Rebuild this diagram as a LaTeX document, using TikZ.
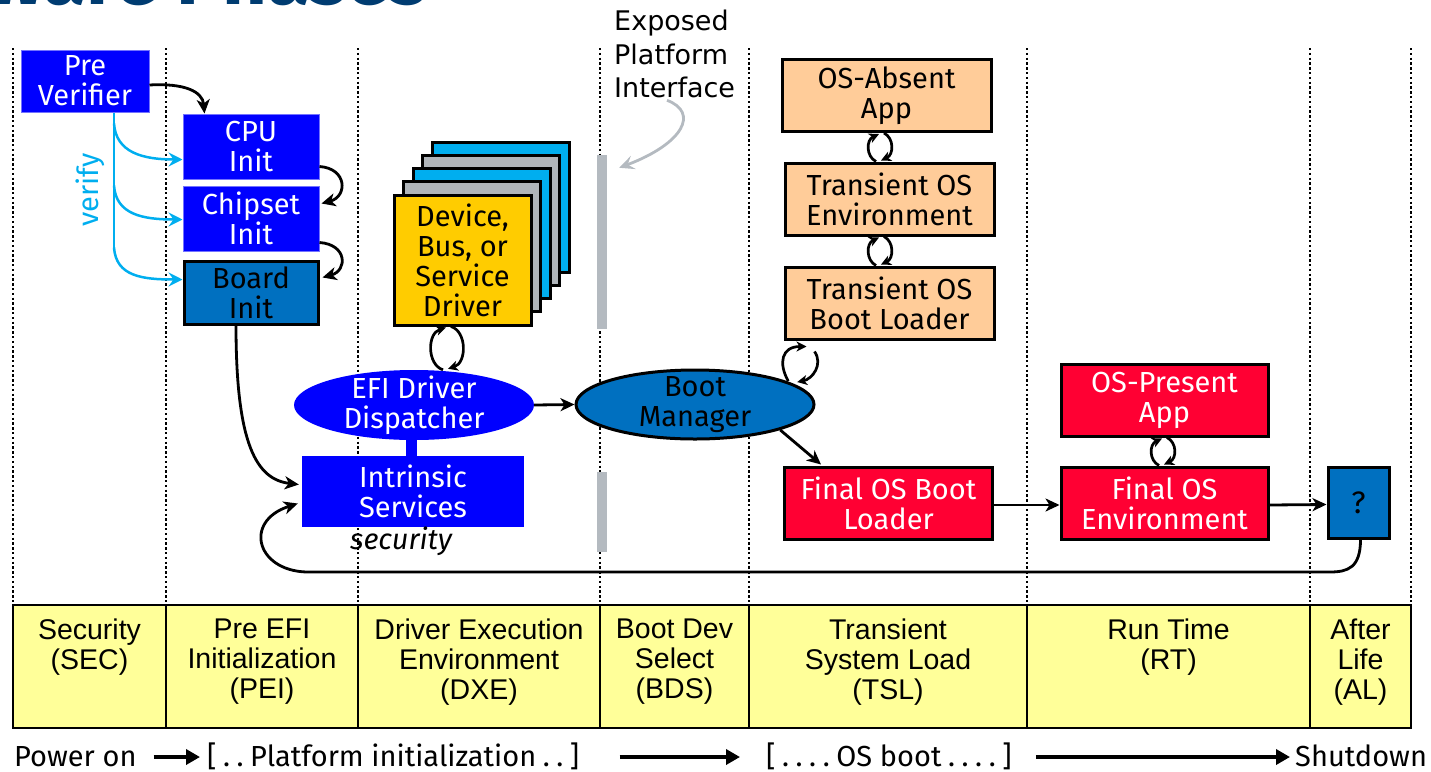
\documentclass[tikz,border=0pt]{standalone}
\usepackage{fontspec}
\setmainfont{Fira Sans}
\newfontfamily\labfont{Liberation Sans}
\newfontfamily\notefont{DejaVu Sans}
\usetikzlibrary{arrows.meta,calc,shapes.geometric}

\definecolor{navy}{HTML}{003C71}
\definecolor{pureblue}{HTML}{0000FF}
\definecolor{midblue}{HTML}{0070C0}
\definecolor{skyblue}{HTML}{00AEEF}
\definecolor{peach}{HTML}{FFCC99}
\definecolor{alertred}{HTML}{FF0033}
\definecolor{paleyellow}{HTML}{FFFF99}
\definecolor{bargray}{HTML}{B4BAC0}
\definecolor{layergray}{HTML}{B0B5BA}
\definecolor{gold}{HTML}{FFCC00}

\newcommand\boxfs{\fontsize{29}{30}\selectfont}
\newcommand\cellfs{\labfont\fontsize{28.5}{30}\selectfont}
\newcommand\notefs{\notefont\fontsize{27}{33.5}\selectfont}
\newcommand\titlefs{\fontsize{78}{80}\selectfont\bfseries}
\newcommand\dotgap{\hspace{6.6pt}}

% two facing arcs between a node and the one stacked below it
\newcommand\stackloop[4]{%
  \coordinate (lpB) at ($(#2.north)+(#3,0)$);
  \coordinate (lpT) at (lpB |- #1.south);
  \draw[looparr] ($(lpB)+(-4,0)$) .. controls ($(lpB)+(-#4-4,-5)$) and ($(lpT)+(-#4-4,7)$) .. ($(lpT)+(-1,1)$);
  \draw[looparr] ($(lpT)+(4,0)$) .. controls ($(lpT)+(#4+4,5)$) and ($(lpB)+(#4+4,-7)$) .. ($(lpB)+(1,-1)$);
}

\tikzset{
  box/.style={rectangle, inner sep=0pt, align=center, font=\boxfs},
  bluebox/.style={box, fill=pureblue, draw=pureblue!55!white, line width=1pt, text=white},
  darkbox/.style={box, fill=midblue, draw=black, line width=3pt, text=black},
  peachbox/.style={box, fill=peach, draw=black, line width=3pt, text=black,
    minimum width=209pt, minimum height=72pt},
  redbox/.style={box, fill=alertred, draw=black, line width=3pt, text=white,
    minimum width=208pt, minimum height=72pt},
  layer/.style={rectangle, draw=black, line width=3pt, minimum width=137pt, minimum height=130pt},
  phase/.style={line width=2.8pt, dash pattern=on 2.4pt off 2.4pt},
  cell/.style={rectangle, fill=paleyellow, draw=black, line width=2.5pt, minimum height=123pt, inner sep=0pt},
  celltext/.style={anchor=north, align=center, inner sep=0pt, font=\cellfs},
  rowtext/.style={anchor=base west, inner sep=0pt, font=\boxfs},
  arr/.style={line width=2.8pt, -{Stealth[length=14pt,width=13pt,inset=4pt]}},
  looparr/.style={line width=2.7pt, -{Stealth[length=10pt,width=10pt,inset=3pt]}},
  cyarr/.style={draw=skyblue, line width=2.5pt, -{Stealth[length=14pt,width=14pt,inset=5pt]}},
  grayarr/.style={draw=bargray, line width=2.8pt, -{Stealth[length=15pt,width=14pt,inset=6pt]}},
  rowarr/.style={line width=4pt, -{Triangle[length=14pt,width=15pt]}},
}

\begin{document}
\begin{tikzpicture}[x=1pt,y=-1pt]
\useasboundingbox (0,0) rectangle (1431,771);

% heading, only its lower edge falls inside the page
\begin{scope}
  \clip (0,0) rectangle (1431,771);
  \node[anchor=base west, inner sep=0pt, font=\titlefs, text=navy] (title) at (-14,5) {ware Phases};
\end{scope}

% phase separators
\foreach \x in {13,166,358,600,749,1027,1310,1411}
  \draw[phase] (\x,48) -- (\x,605);

% ---- SEC / PEI ----
\node[bluebox, minimum width=128pt, minimum height=62pt] (pv) at (85,81) {Pre\\Verifier};
\node[bluebox, minimum width=136pt, minimum height=65pt] (cpu) at (251,146.5) {CPU\\Init};
\node[bluebox, minimum width=136pt, minimum height=65pt] (chip) at (251,218.5) {Chipset\\Init};
\node[darkbox, minimum width=134pt, minimum height=63pt] (board) at (251,292.5) {Board\\Init};

\node[rotate=90, text=skyblue, font=\boxfs, inner sep=0pt] (verify) at (90,190) {verify};

\coordinate (vtop) at ($(pv.south)+(29,0)$);
\coordinate (vbot) at ($(vtop)+(0,135)$);
\draw[draw=skyblue, line width=2.5pt] (vtop) -- (vbot);
\draw[cyarr] ($(vtop)+(0,11)$) .. controls ($(vtop)+(2,40)$) and ($(cpu.west)+(-40,13)$) .. ($(cpu.west)+(0,13)$);
\draw[cyarr] ($(vtop)+(0,73)$) .. controls ($(vtop)+(2,102)$) and ($(chip.west)+(-40,1)$) .. ($(chip.west)+(0,1)$);
\draw[cyarr] (vbot) .. controls ($(vbot)+(2,29)$) and ($(board.west)+(-40,-13)$) .. ($(board.west)+(0,-13)$);

\draw[arr] ($(pv.east)+(0,4)$) .. controls ($(pv.east)+(35,2)$) and ($(cpu.north west)+(20,-22)$) .. ($(cpu.north west)+(22,0)$);
\draw[arr] ($(cpu.east)+(0,20)$) .. controls ($(cpu.east)+(28,22)$) and ($(chip.east)+(28,-22)$) .. ($(chip.east)+(2,-15)$);
\draw[arr] ($(chip.east)+(0,24)$) .. controls ($(chip.east)+(28,26)$) and ($(board.east)+(28,-22)$) .. ($(board.east)+(3,-15)$);

% ---- DXE ----
\node[layer, fill=skyblue] (drv4) at (500.5,207.5) {};
\node[layer, fill=layergray] (drv3) at (491,220.5) {};
\node[layer, fill=skyblue] (drv2) at (481.5,233.5) {};
\node[layer, fill=layergray] (drv1) at (472,246.5) {};
\node[layer, fill=gold, box, font=\boxfs] (drv) at (462.5,260) {Device,\\Bus, or\\Service\\Driver};

\node[ellipse, fill=pureblue, minimum width=240pt, minimum height=70pt, inner sep=0pt] (efi) at (414,405) {};
\node[box, text=white] (efitext) at (efi.center) {EFI Driver\\Dispatcher};
\node[box, fill=pureblue, minimum width=222pt, minimum height=71pt, text=white] (intr) at (413,491.5) {Intrinsic\\Services};
\fill[pureblue] ($(efi.south)+(-8,-2)$) rectangle ($(intr.north)+(4,1)$);
\node[font=\boxfs\itshape, inner sep=0pt] (secnote) at (401,541) {security};

\stackloop{drv}{efi}{33}{16}

\draw[arr] ($(board.south)+(-15,0)$) .. controls ($(board.south)+(-15,120)$) and ($(intr.west)+(-45,-12)$) .. ($(intr.west)+(-3,-7)$);

% ---- BDS ----
\node[rectangle, fill=bargray, minimum width=10pt, minimum height=174pt, inner sep=0pt] (bar1) at (602,242) {};
\node[rectangle, fill=bargray, minimum width=10pt, minimum height=80pt, inner sep=0pt] (bar2) at (602,512) {};
\node[anchor=north west, align=left, inner sep=0pt, font=\notefs] (epi) at (614,10) {Exposed\\Platform\\Interface};
\draw[grayarr] ($(epi.south west)+(53,2)$) .. controls ($(epi.south west)+(85,14)$) and ($(epi.south west)+(70,45)$) .. ($(bar1.north east)+(12,13)$);

\node[ellipse, fill=midblue, draw=black, line width=3pt, minimum width=238pt, minimum height=69pt, inner sep=0pt] (bm) at (695,404.5) {};
\node[box] (bmtext) at (bm.center) {Boot\\Manager};
\draw[arr] (efi.east) -- (bm.west);

% ---- TSL ----
\node[peachbox] (osa) at (886.5,95.5) {OS-Absent\\App};
\node[peachbox] (tenv) at (889.5,199) {Transient OS\\Environment};
\node[peachbox] (tbl) at (889.5,303) {Transient OS\\Boot Loader};
\stackloop{osa}{tenv}{-9.5}{10}
\stackloop{tenv}{tbl}{-9.5}{10}

\draw[looparr] ($(bm.north east)+(8,2)$) .. controls ($(bm.north east)+(-2,-16)$) and ($(tbl.south west)+(-2,6)$) .. ($(tbl.south west)+(23,6)$);
\draw[looparr] ($(tbl.south west)+(31,11)$) .. controls ($(tbl.south west)+(40,24)$) and ($(bm.north east)+(32,0)$) .. ($(bm.north east)+(17,3)$);

\node[redbox] (fbl) at (888.5,503) {Final OS Boot\\Loader};
\draw[arr] (bm.south east) -- ($(fbl.north west)+(38,-1)$);

% ---- RT / AL ----
\node[redbox, minimum width=207pt] (osp) at (1164.5,400) {OS-Present\\App};
\node[redbox, minimum width=207pt] (fenv) at (1164.5,503) {Final OS\\Environment};
\stackloop{osp}{fenv}{-1.5}{10}
\node[darkbox, minimum width=61pt, minimum height=71pt, font=\fontsize{31}{32}\selectfont] (q) at (1358.5,502.5) {?};

\draw[arr] ($(fbl.east)+(0,2)$) -- ($(fenv.west)+(0,2)$);
\draw[arr] ($(fenv.east)+(0,2)$) -- ($(q.west)+(0,2)$);

% return path from after-life back to the intrinsic services
\coordinate (r1) at (1330,572);
\coordinate (r2) at (312,572);
\draw[arr] ($(q.south)+(2,0)$) .. controls ($(q.south)+(2,28)$) and ($(r1)+(18,0)$) .. (r1) -- (r2)
  .. controls ($(r2)+(-55,2)$) and ($(intr.west)+(-60,30)$) .. ($(intr.west)+(-4,12)$);

% ---- phase band ----
\node[cell, minimum width=153pt] (sec) at (89.5,666.5) {};
\node[cell, minimum width=192pt] (pei) at (262,666.5) {};
\node[cell, minimum width=242pt] (dxe) at (479,666.5) {};
\node[cell, minimum width=149pt] (bds) at (674.5,666.5) {};
\node[cell, minimum width=278pt] (tsl) at (888,666.5) {};
\node[cell, minimum width=283pt] (rt) at (1168.5,666.5) {};
\node[cell, minimum width=101pt] (al) at (1360.5,666.5) {};
\node[celltext] at ($(sec.north)+(0,15)$) {Security\\(SEC)};
\node[celltext] at ($(pei.north)+(0,15)$) {Pre EFI\\Initialization\\(PEI)};
\node[celltext] at ($(dxe.north)+(0,15)$) {Driver Execution\\Environment\\(DXE)};
\node[celltext] at ($(bds.north)+(0,15)$) {Boot Dev\\Select\\(BDS)};
\node[celltext] at ($(tsl.north)+(0,15)$) {Transient\\System Load\\(TSL)};
\node[celltext] at ($(rt.north)+(0,15)$) {Run Time\\(RT)};
\node[celltext] at ($(al.north)+(0,15)$) {After\\Life\\(AL)};

% ---- boot timeline ----
\coordinate (rowy) at (0,757);
\node[rowtext] (pwr) at (14,766) {Power on};
\node[rowtext] (plat) at (207,766) {[\dotgap.\dotgap.\dotgap Platform initialization\dotgap.\dotgap.\dotgap]};
\node[rowtext] (osb) at (766,766) {[\dotgap.\dotgap.\dotgap.\dotgap.\dotgap OS boot\dotgap.\dotgap.\dotgap.\dotgap.\dotgap]};
\node[rowtext] (shut) at (1295,766) {Shutdown};
\draw[rowarr] ($(pwr.east |- rowy)+(17,0)$) -- ($(plat.west |- rowy)+(-7,0)$);
\draw[rowarr] ($(plat.east |- rowy)+(40,0)$) -- ($(osb.west |- rowy)+(-26,0)$);
\draw[rowarr] ($(osb.east |- rowy)+(24,0)$) -- ($(shut.west |- rowy)+(-5,0)$);
\end{tikzpicture}
\end{document}
